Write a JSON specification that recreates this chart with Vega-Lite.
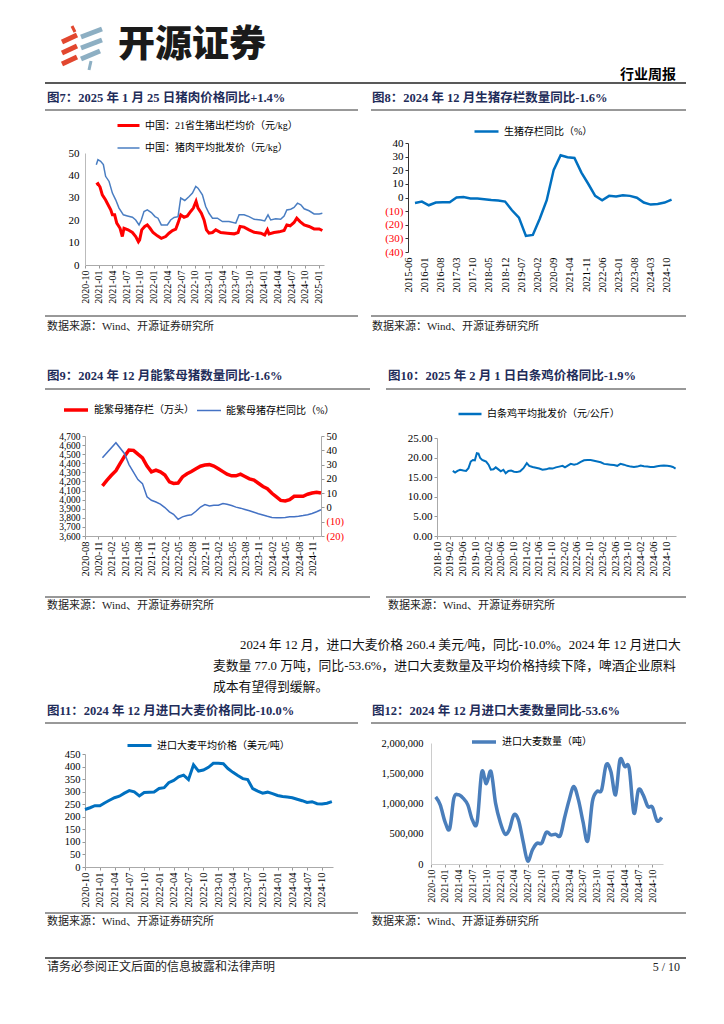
{
"$schema": "https://vega.github.io/schema/vega-lite/v6.json",
"background": "white",
"padding": 0,
"spacing": 0,
"bounds": "flush",
"align": "each",
"columns": 4,
"resolve": {"scale": {"color": "independent", "strokeWidth": "independent"}},
"config": {
  "view": {"stroke": null},
  "font": "Liberation Serif, Noto Sans CJK SC",
  "axis": {"labelFont": "Liberation Serif", "labelColor": "#000", "domainColor": "#999", "tickColor": "#999", "tickSize": 3, "grid": false, "labelFlush": false, "labelOverlap": false},
  "legend": {"labelFont": "Liberation Serif, Noto Sans CJK SC", "labelFontSize": 10, "labelColor": "#000", "orient": "none", "symbolType": "stroke", "padding": 0, "rowPadding": 0, "columnPadding": 5, "labelOffset": 4}
},
"datasets": {
  "f7r": [
    {"date":"2020-12-15","value":35.8},{"date":"2020-12-26","value":36.3},{"date":"2021-01-09","value":34.8},{"date":"2021-01-24","value":31.3},{"date":"2021-02-15","value":29.0},{"date":"2021-02-26","value":27.6},{"date":"2021-03-21","value":24.6},{"date":"2021-04-01","value":22.4},{"date":"2021-04-16","value":22.4},{"date":"2021-04-30","value":18.7},{"date":"2021-05-22","value":16.4},{"date":"2021-06-06","value":12.7},{"date":"2021-06-17","value":16.4},{"date":"2021-07-14","value":15.7},{"date":"2021-08-12","value":14.5},{"date":"2021-09-03","value":12.7},{"date":"2021-09-21","value":10.4},{"date":"2021-09-29","value":11.2},{"date":"2021-10-13","value":15.7},{"date":"2021-11-02","value":17.2},{"date":"2021-11-19","value":17.9},{"date":"2021-12-07","value":16.4},{"date":"2021-12-27","value":14.5},{"date":"2022-01-25","value":13.0},{"date":"2022-02-20","value":11.9},{"date":"2022-03-21","value":12.7},{"date":"2022-04-12","value":14.2},{"date":"2022-05-05","value":15.4},{"date":"2022-05-27","value":16.0},{"date":"2022-06-11","value":18.7},{"date":"2022-06-29","value":22.4},{"date":"2022-07-21","value":21.3},{"date":"2022-08-12","value":21.9},{"date":"2022-09-03","value":23.9},{"date":"2022-09-21","value":25.4},{"date":"2022-10-09","value":28.4},{"date":"2022-10-22","value":25.4},{"date":"2022-11-13","value":23.1},{"date":"2022-12-01","value":20.1},{"date":"2022-12-17","value":15.7},{"date":"2023-01-03","value":14.2},{"date":"2023-01-26","value":14.5},{"date":"2023-02-17","value":15.7},{"date":"2023-03-22","value":14.5},{"date":"2023-05-05","value":14.2},{"date":"2023-06-19","value":13.9},{"date":"2023-07-15","value":14.5},{"date":"2023-07-28","value":17.2},{"date":"2023-08-24","value":16.9},{"date":"2023-09-26","value":15.7},{"date":"2023-10-30","value":14.6},{"date":"2023-12-13","value":14.2},{"date":"2024-01-08","value":13.4},{"date":"2024-01-26","value":15.7},{"date":"2024-02-06","value":13.9},{"date":"2024-03-10","value":14.5},{"date":"2024-04-13","value":14.8},{"date":"2024-05-16","value":15.4},{"date":"2024-06-03","value":17.9},{"date":"2024-06-25","value":17.5},{"date":"2024-07-21","value":19.0},{"date":"2024-08-08","value":20.9},{"date":"2024-08-30","value":19.4},{"date":"2024-09-26","value":17.9},{"date":"2024-10-29","value":17.2},{"date":"2024-12-01","value":16.1},{"date":"2025-01-04","value":16.1},{"date":"2025-01-25","value":15.4}
  ],
  "f7b": [
    {"date":"2020-12-15","value":44.8},{"date":"2020-12-26","value":47.0},{"date":"2021-01-13","value":46.3},{"date":"2021-01-31","value":44.8},{"date":"2021-02-15","value":39.6},{"date":"2021-03-10","value":37.3},{"date":"2021-04-01","value":32.1},{"date":"2021-04-23","value":29.1},{"date":"2021-05-15","value":25.4},{"date":"2021-06-13","value":22.4},{"date":"2021-07-10","value":21.9},{"date":"2021-08-12","value":21.3},{"date":"2021-09-03","value":20.1},{"date":"2021-09-25","value":17.9},{"date":"2021-10-10","value":20.1},{"date":"2021-10-28","value":23.9},{"date":"2021-11-19","value":24.6},{"date":"2021-12-16","value":23.4},{"date":"2022-01-09","value":21.6},{"date":"2022-01-29","value":20.9},{"date":"2022-02-20","value":17.9},{"date":"2022-04-01","value":17.9},{"date":"2022-04-23","value":20.1},{"date":"2022-05-16","value":21.2},{"date":"2022-06-11","value":21.6},{"date":"2022-06-29","value":29.9},{"date":"2022-07-26","value":28.8},{"date":"2022-08-24","value":30.6},{"date":"2022-09-15","value":32.1},{"date":"2022-10-07","value":35.1},{"date":"2022-10-22","value":34.3},{"date":"2022-11-20","value":31.3},{"date":"2022-12-12","value":26.1},{"date":"2023-01-03","value":23.1},{"date":"2023-01-26","value":20.9},{"date":"2023-02-28","value":20.9},{"date":"2023-04-02","value":19.4},{"date":"2023-05-16","value":19.4},{"date":"2023-06-30","value":18.7},{"date":"2023-07-22","value":22.4},{"date":"2023-08-24","value":22.4},{"date":"2023-09-26","value":21.6},{"date":"2023-10-30","value":20.4},{"date":"2023-12-13","value":20.1},{"date":"2024-01-08","value":19.7},{"date":"2024-01-30","value":22.4},{"date":"2024-02-17","value":20.1},{"date":"2024-03-21","value":20.6},{"date":"2024-04-23","value":20.4},{"date":"2024-05-16","value":21.9},{"date":"2024-06-03","value":24.6},{"date":"2024-06-29","value":24.9},{"date":"2024-07-21","value":25.7},{"date":"2024-08-13","value":27.6},{"date":"2024-09-04","value":26.9},{"date":"2024-09-26","value":25.1},{"date":"2024-10-29","value":24.2},{"date":"2024-12-01","value":22.8},{"date":"2025-01-04","value":22.8},{"date":"2025-01-25","value":23.1}
  ],
  "f8": [
    {"date":"2015-09-01","value":-4.0},{"date":"2015-12-01","value":-3.0},{"date":"2016-03-01","value":-5.7},{"date":"2016-06-01","value":-3.7},{"date":"2016-09-01","value":-3.5},{"date":"2016-12-01","value":-3.5},{"date":"2017-03-01","value":0.0},{"date":"2017-06-01","value":0.3},{"date":"2017-09-01","value":-0.7},{"date":"2017-12-01","value":-0.8},{"date":"2018-03-01","value":-1.2},{"date":"2018-06-01","value":-1.8},{"date":"2018-09-01","value":-2.2},{"date":"2018-12-01","value":-3.0},{"date":"2019-03-01","value":-9.4},{"date":"2019-06-01","value":-14.8},{"date":"2019-09-01","value":-28.2},{"date":"2019-12-01","value":-27.5},{"date":"2020-03-01","value":-15.6},{"date":"2020-06-01","value":-2.0},{"date":"2020-09-01","value":20.3},{"date":"2020-12-01","value":31.0},{"date":"2021-03-01","value":29.5},{"date":"2021-06-01","value":29.0},{"date":"2021-09-01","value":18.3},{"date":"2021-12-01","value":9.9},{"date":"2022-03-01","value":1.2},{"date":"2022-06-01","value":-2.0},{"date":"2022-09-01","value":1.2},{"date":"2022-12-01","value":0.7},{"date":"2023-03-01","value":1.7},{"date":"2023-06-01","value":1.2},{"date":"2023-09-01","value":-0.2},{"date":"2023-12-01","value":-3.7},{"date":"2024-03-01","value":-5.2},{"date":"2024-06-01","value":-4.7},{"date":"2024-09-01","value":-3.7},{"date":"2024-12-01","value":-1.6}
  ],
  "f9r": [
    {"date":"2020-11-28","value":4151},{"date":"2020-12-28","value":4212},{"date":"2021-01-28","value":4268},{"date":"2021-02-28","value":4318},{"date":"2021-03-28","value":4396},{"date":"2021-04-28","value":4478},{"date":"2021-05-28","value":4545},{"date":"2021-06-28","value":4542},{"date":"2021-07-28","value":4500},{"date":"2021-08-28","value":4460},{"date":"2021-09-28","value":4370},{"date":"2021-10-28","value":4305},{"date":"2021-11-28","value":4325},{"date":"2021-12-28","value":4305},{"date":"2022-01-28","value":4270},{"date":"2022-02-28","value":4195},{"date":"2022-03-28","value":4178},{"date":"2022-04-28","value":4183},{"date":"2022-05-28","value":4250},{"date":"2022-06-28","value":4285},{"date":"2022-07-28","value":4310},{"date":"2022-08-28","value":4340},{"date":"2022-09-28","value":4368},{"date":"2022-10-28","value":4380},{"date":"2022-11-28","value":4385},{"date":"2022-12-28","value":4370},{"date":"2023-01-28","value":4340},{"date":"2023-02-28","value":4308},{"date":"2023-03-28","value":4280},{"date":"2023-04-28","value":4262},{"date":"2023-05-28","value":4262},{"date":"2023-06-28","value":4280},{"date":"2023-07-28","value":4255},{"date":"2023-08-28","value":4228},{"date":"2023-09-28","value":4215},{"date":"2023-10-28","value":4180},{"date":"2023-11-28","value":4145},{"date":"2023-12-28","value":4120},{"date":"2024-01-28","value":4070},{"date":"2024-02-28","value":4030},{"date":"2024-03-28","value":3992},{"date":"2024-04-28","value":3986},{"date":"2024-05-28","value":4000},{"date":"2024-06-28","value":4037},{"date":"2024-07-28","value":4037},{"date":"2024-08-28","value":4037},{"date":"2024-09-28","value":4059},{"date":"2024-10-28","value":4073},{"date":"2024-11-28","value":4081},{"date":"2024-12-28","value":4073}
  ],
  "f9b": [
    {"date":"2020-11-28","value":34.8},{"date":"2021-02-28","value":45.3},{"date":"2021-04-28","value":37.6},{"date":"2021-05-28","value":30.0},{"date":"2021-07-28","value":19.5},{"date":"2021-08-28","value":16.7},{"date":"2021-09-28","value":7.5},{"date":"2021-10-28","value":5.0},{"date":"2021-11-28","value":3.8},{"date":"2021-12-28","value":2.3},{"date":"2022-01-28","value":-0.1},{"date":"2022-02-28","value":-3.1},{"date":"2022-03-28","value":-4.8},{"date":"2022-04-28","value":-8.3},{"date":"2022-05-28","value":-6.6},{"date":"2022-06-28","value":-5.7},{"date":"2022-07-28","value":-5.2},{"date":"2022-08-28","value":-2.7},{"date":"2022-09-28","value":0.3},{"date":"2022-10-28","value":2.0},{"date":"2022-11-28","value":1.0},{"date":"2022-12-28","value":1.5},{"date":"2023-01-28","value":1.5},{"date":"2023-02-28","value":2.7},{"date":"2023-03-28","value":2.2},{"date":"2023-04-28","value":1.3},{"date":"2023-05-28","value":0.2},{"date":"2023-06-28","value":-0.5},{"date":"2023-07-28","value":-1.4},{"date":"2023-08-28","value":-2.3},{"date":"2023-09-28","value":-3.4},{"date":"2023-10-28","value":-4.4},{"date":"2023-11-28","value":-5.3},{"date":"2023-12-28","value":-6.2},{"date":"2024-01-28","value":-7.0},{"date":"2024-02-28","value":-7.3},{"date":"2024-03-28","value":-7.3},{"date":"2024-04-28","value":-7.0},{"date":"2024-05-28","value":-6.6},{"date":"2024-06-28","value":-6.5},{"date":"2024-07-28","value":-6.2},{"date":"2024-08-28","value":-5.7},{"date":"2024-09-28","value":-5.1},{"date":"2024-10-28","value":-4.2},{"date":"2024-11-28","value":-3.0},{"date":"2024-12-28","value":-1.6}
  ],
  "f10": [
    {"date":"2019-03-01","value":16.6},{"date":"2019-03-23","value":16.2},{"date":"2019-04-15","value":16.6},{"date":"2019-05-10","value":16.9},{"date":"2019-06-11","value":16.7},{"date":"2019-07-06","value":16.6},{"date":"2019-07-29","value":17.3},{"date":"2019-08-20","value":19.0},{"date":"2019-09-09","value":19.4},{"date":"2019-09-28","value":19.3},{"date":"2019-10-17","value":21.1},{"date":"2019-11-02","value":21.0},{"date":"2019-11-18","value":19.9},{"date":"2019-12-07","value":19.4},{"date":"2019-12-26","value":19.2},{"date":"2020-01-14","value":19.0},{"date":"2020-02-06","value":18.2},{"date":"2020-02-28","value":16.9},{"date":"2020-03-24","value":17.0},{"date":"2020-04-15","value":17.5},{"date":"2020-05-10","value":17.0},{"date":"2020-06-02","value":16.5},{"date":"2020-06-27","value":16.9},{"date":"2020-07-19","value":16.0},{"date":"2020-08-14","value":16.6},{"date":"2020-09-09","value":16.7},{"date":"2020-10-07","value":16.4},{"date":"2020-11-02","value":16.3},{"date":"2020-12-04","value":16.5},{"date":"2021-01-05","value":17.3},{"date":"2021-02-06","value":18.6},{"date":"2021-03-01","value":17.9},{"date":"2021-04-02","value":17.6},{"date":"2021-05-04","value":17.4},{"date":"2021-06-05","value":17.2},{"date":"2021-07-06","value":16.9},{"date":"2021-08-08","value":17.0},{"date":"2021-09-09","value":17.3},{"date":"2021-10-10","value":17.2},{"date":"2021-11-11","value":17.5},{"date":"2021-12-13","value":17.7},{"date":"2022-01-14","value":17.9},{"date":"2022-02-06","value":17.5},{"date":"2022-03-01","value":17.9},{"date":"2022-04-02","value":18.4},{"date":"2022-05-04","value":18.2},{"date":"2022-06-05","value":18.4},{"date":"2022-07-07","value":18.9},{"date":"2022-08-08","value":19.3},{"date":"2022-09-09","value":19.4},{"date":"2022-10-10","value":19.4},{"date":"2022-11-11","value":19.2},{"date":"2022-12-13","value":19.0},{"date":"2023-01-14","value":18.8},{"date":"2023-02-15","value":18.4},{"date":"2023-03-17","value":18.3},{"date":"2023-04-18","value":18.2},{"date":"2023-05-20","value":18.1},{"date":"2023-06-21","value":17.9},{"date":"2023-07-22","value":18.4},{"date":"2023-08-24","value":18.2},{"date":"2023-09-25","value":17.9},{"date":"2023-10-27","value":17.7},{"date":"2023-11-28","value":17.6},{"date":"2023-12-29","value":17.7},{"date":"2024-01-31","value":18.0},{"date":"2024-03-02","value":17.8},{"date":"2024-04-03","value":17.7},{"date":"2024-05-04","value":17.6},{"date":"2024-06-05","value":17.6},{"date":"2024-07-07","value":17.8},{"date":"2024-08-08","value":17.9},{"date":"2024-09-09","value":18.0},{"date":"2024-10-11","value":17.9},{"date":"2024-11-12","value":17.8},{"date":"2024-12-04","value":17.6},{"date":"2024-12-30","value":17.2}
  ],
  "f11": [
    {"date":"2020-10-01","value":229},{"date":"2020-11-01","value":236},{"date":"2020-12-01","value":244},{"date":"2021-01-01","value":244},{"date":"2021-02-01","value":256},{"date":"2021-03-01","value":266},{"date":"2021-04-01","value":276},{"date":"2021-05-01","value":282},{"date":"2021-06-01","value":294},{"date":"2021-07-01","value":304},{"date":"2021-08-01","value":299},{"date":"2021-09-01","value":283},{"date":"2021-10-01","value":297},{"date":"2021-11-01","value":298},{"date":"2021-12-01","value":299},{"date":"2022-01-01","value":313},{"date":"2022-02-01","value":316},{"date":"2022-03-01","value":336},{"date":"2022-04-01","value":345},{"date":"2022-05-01","value":359},{"date":"2022-06-01","value":366},{"date":"2022-07-01","value":348},{"date":"2022-08-01","value":407},{"date":"2022-09-01","value":382},{"date":"2022-10-01","value":386},{"date":"2022-11-01","value":397},{"date":"2022-12-01","value":413},{"date":"2023-01-01","value":413},{"date":"2023-02-01","value":411},{"date":"2023-03-01","value":392},{"date":"2023-04-01","value":377},{"date":"2023-05-01","value":364},{"date":"2023-06-01","value":352},{"date":"2023-07-01","value":348},{"date":"2023-08-01","value":312},{"date":"2023-09-01","value":302},{"date":"2023-10-01","value":294},{"date":"2023-11-01","value":298},{"date":"2023-12-01","value":292},{"date":"2024-01-01","value":285},{"date":"2024-02-01","value":281},{"date":"2024-03-01","value":279},{"date":"2024-04-01","value":276},{"date":"2024-05-01","value":270},{"date":"2024-06-01","value":264},{"date":"2024-07-01","value":257},{"date":"2024-08-01","value":260},{"date":"2024-09-01","value":252},{"date":"2024-10-01","value":251},{"date":"2024-11-01","value":254},{"date":"2024-12-01","value":260.4}
  ],
  "f12": [
    {"date":"2020-11-01","value":1110000},{"date":"2020-12-01","value":978000},{"date":"2021-01-01","value":702000},{"date":"2021-02-01","value":580000},{"date":"2021-03-01","value":1088000},{"date":"2021-04-01","value":1144000},{"date":"2021-05-01","value":1088000},{"date":"2021-06-01","value":978000},{"date":"2021-07-01","value":729000},{"date":"2021-08-01","value":690000},{"date":"2021-09-01","value":1519000},{"date":"2021-10-01","value":1326000},{"date":"2021-11-01","value":1530000},{"date":"2021-12-01","value":1006000},{"date":"2022-01-01","value":690000},{"date":"2022-02-01","value":497000},{"date":"2022-03-01","value":563000},{"date":"2022-04-01","value":812000},{"date":"2022-05-01","value":729000},{"date":"2022-06-01","value":370000},{"date":"2022-07-01","value":50000},{"date":"2022-08-01","value":232000},{"date":"2022-09-01","value":343000},{"date":"2022-10-01","value":343000},{"date":"2022-11-01","value":525000},{"date":"2022-12-01","value":481000},{"date":"2023-01-01","value":492000},{"date":"2023-02-01","value":470000},{"date":"2023-03-01","value":760000},{"date":"2023-04-01","value":1060000},{"date":"2023-05-01","value":1280000},{"date":"2023-06-01","value":1060000},{"date":"2023-07-01","value":700000},{"date":"2023-08-01","value":381000},{"date":"2023-09-01","value":1032000},{"date":"2023-10-01","value":1198000},{"date":"2023-11-01","value":1226000},{"date":"2023-12-01","value":1640000},{"date":"2024-01-01","value":1530000},{"date":"2024-02-01","value":1143000},{"date":"2024-03-01","value":1723000},{"date":"2024-04-01","value":1612000},{"date":"2024-05-01","value":1585000},{"date":"2024-06-01","value":840000},{"date":"2024-07-01","value":1226000},{"date":"2024-08-01","value":1143000},{"date":"2024-09-01","value":950000},{"date":"2024-10-01","value":940000},{"date":"2024-11-01","value":712000},{"date":"2024-12-01","value":770000}
  ]
},
"concat": [
  {
    "width": 85, "height": 143,
    "data": {"values": [{}]},
    "layer": [
      {"mark": {"type": "rule", "strokeWidth": 5, "color": "#E2472F"}, "encoding": {"x": {"value": 62}, "y": {"value": 42}, "x2": {"value": 77}, "y2": {"value": 35}}},
      {"mark": {"type": "rule", "strokeWidth": 5, "color": "#E2472F"}, "encoding": {"x": {"value": 62}, "y": {"value": 53}, "x2": {"value": 77}, "y2": {"value": 46}}},
      {"mark": {"type": "rule", "strokeWidth": 5, "color": "#E2472F"}, "encoding": {"x": {"value": 62}, "y": {"value": 64}, "x2": {"value": 77}, "y2": {"value": 57}}},
      {"mark": {"type": "rule", "strokeWidth": 3, "color": "#E2472F"}, "encoding": {"x": {"value": 72}, "y": {"value": 26}, "x2": {"value": 75}, "y2": {"value": 32}}},
      {"mark": {"type": "rule", "strokeWidth": 5, "color": "#8DAFC3"}, "encoding": {"x": {"value": 81}, "y": {"value": 37}, "x2": {"value": 102}, "y2": {"value": 29}}},
      {"mark": {"type": "rule", "strokeWidth": 5, "color": "#8DAFC3"}, "encoding": {"x": {"value": 81}, "y": {"value": 48}, "x2": {"value": 102}, "y2": {"value": 40}}},
      {"mark": {"type": "rule", "strokeWidth": 5, "color": "#8DAFC3"}, "encoding": {"x": {"value": 81}, "y": {"value": 59}, "x2": {"value": 100}, "y2": {"value": 51}}},
      {"mark": {"type": "rule", "strokeWidth": 3, "color": "#8DAFC3"}, "encoding": {"x": {"value": 91}, "y": {"value": 61}, "x2": {"value": 89}, "y2": {"value": 70}}},
      {"mark": {"type": "text", "text": "开源证券", "x": 118, "y": 46, "align": "left", "baseline": "middle", "fontSize": 37, "fontWeight": 900, "font": "Noto Sans CJK SC", "color": "#1a1a1a"}},
      {"mark": {"type": "text", "text": "行业周报", "x": 676, "y": 75, "align": "right", "baseline": "middle", "fontSize": 14, "fontWeight": "bold", "font": "Noto Sans CJK SC", "color": "#000"}},
      {"mark": {"type": "rule", "strokeWidth": 1.5, "color": "#222"}, "encoding": {"x": {"value": 45}, "x2": {"value": 686}, "y": {"value": 83}}},
      {"mark": {"type": "text", "text": "图7：2025 年 1 月 25 日猪肉价格同比+1.4%", "x": 47, "y": 98, "align": "left", "baseline": "middle", "fontSize": 12.5, "fontWeight": "bold", "color": "#1F2D5A"}},
      {"mark": {"type": "text", "text": "图8：2024 年 12 月生猪存栏数量同比-1.6%", "x": 372, "y": 98, "align": "left", "baseline": "middle", "fontSize": 12.5, "fontWeight": "bold", "color": "#1F2D5A"}},
      {"mark": {"type": "rule", "strokeWidth": 1, "color": "#333"}, "encoding": {"x": {"value": 45}, "x2": {"value": 358}, "y": {"value": 110}}},
      {"mark": {"type": "rule", "strokeWidth": 1, "color": "#333"}, "encoding": {"x": {"value": 371}, "x2": {"value": 686}, "y": {"value": 110}}}
    ]
  },
  {"width": 1, "height": 1, "data": {"values": []}, "mark": "point"},
  {"width": 75, "height": 1, "data": {"values": []}, "mark": "point"},
  {"width": 1, "height": 1, "data": {"values": []}, "mark": "point"},

  {"width": 85, "height": 1, "data": {"values": []}, "mark": "point"},
  {
    "width": 239, "height": 122,
    "layer": [
      {
        "data": {"name": "f7r"},
        "mark": {"type": "line"},
        "encoding": {
          "x": {"field": "date", "type": "temporal", "title": null,
                "scale": {"type": "utc", "domain": [{"year": 2020, "month": 10, "date": 1, "utc": true}, {"year": 2025, "month": 2, "date": 5, "utc": true}]},
                "axis": {"format": "%Y-%m", "tickCount": {"interval": "month", "step": 3}, "labelAngle": -90, "labelFontSize": 10, "labelPadding": 2, "domainColor": "#aaa"}},
          "y": {"field": "value", "type": "quantitative", "title": null, "scale": {"domain": [0, 50], "range": [122, 10]},
                "axis": {"values": [0, 10, 20, 30, 40, 50], "labelFontSize": 11, "domainColor": "#bbb", "tickSize": 0, "labelPadding": 6}},
          "color": {"datum": "中国：21省生猪出栏均价（元/kg）", "type": "nominal",
                    "scale": {"domain": ["中国：21省生猪出栏均价（元/kg）", "中国：猪肉平均批发价（元/kg）"], "range": ["#FF0000", "#4A7EC2"]},
                    "legend": {"title": null, "legendX": 31, "legendY": -30, "direction": "vertical", "symbolSize": 484, "rowPadding": 4}},
          "strokeWidth": {"datum": "中国：21省生猪出栏均价（元/kg）", "type": "nominal",
                    "scale": {"type": "point", "padding": 0, "domain": ["中国：21省生猪出栏均价（元/kg）", "中国：猪肉平均批发价（元/kg）"], "range": [3, 1.5]},
                    "legend": {"title": null, "legendX": 31, "legendY": -30, "direction": "vertical", "symbolSize": 484, "rowPadding": 4}}
        }
      },
      {
        "data": {"name": "f7b"},
        "mark": {"type": "line"},
        "encoding": {
          "x": {"field": "date", "type": "temporal", "title": null,
                "scale": {"type": "utc", "domain": [{"year": 2020, "month": 10, "date": 1, "utc": true}, {"year": 2025, "month": 2, "date": 5, "utc": true}]},
                "axis": {"format": "%Y-%m", "tickCount": {"interval": "month", "step": 3}, "labelAngle": -90, "labelFontSize": 10, "labelPadding": 2, "domainColor": "#aaa"}},
          "y": {"field": "value", "type": "quantitative", "title": null, "scale": {"domain": [0, 50], "range": [122, 10]},
                "axis": {"values": [0, 10, 20, 30, 40, 50], "labelFontSize": 11, "domainColor": "#bbb", "tickSize": 0, "labelPadding": 6}},
          "color": {"datum": "中国：猪肉平均批发价（元/kg）", "type": "nominal"},
          "strokeWidth": {"datum": "中国：猪肉平均批发价（元/kg）", "type": "nominal"}
        }
      }
    ]
  },
  {"width": 75, "height": 1, "data": {"values": []}, "mark": "point"},
  {
    "width": 265, "height": 109,
    "layer": [
      {
        "data": {"name": "f8"},
        "mark": {"type": "line", "strokeWidth": 2.5},
        "encoding": {
          "x": {"field": "date", "type": "temporal", "title": null,
                "scale": {"type": "utc", "domain": [{"year": 2015, "month": 6, "date": 1, "utc": true}, {"year": 2024, "month": 12, "date": 20, "utc": true}]},
                "axis": {"format": "%Y-%m", "labelAngle": -90, "labelFontSize": 10.5, "labelPadding": 5, "domain": false, "ticks": false,
                         "values": [{"year": 2015, "month": 6, "date": 1, "utc": true}, {"year": 2016, "month": 1, "date": 1, "utc": true}, {"year": 2016, "month": 8, "date": 1, "utc": true}, {"year": 2017, "month": 3, "date": 1, "utc": true}, {"year": 2017, "month": 10, "date": 1, "utc": true}, {"year": 2018, "month": 5, "date": 1, "utc": true}, {"year": 2018, "month": 12, "date": 1, "utc": true}, {"year": 2019, "month": 7, "date": 1, "utc": true}, {"year": 2020, "month": 2, "date": 1, "utc": true}, {"year": 2020, "month": 9, "date": 1, "utc": true}, {"year": 2021, "month": 4, "date": 1, "utc": true}, {"year": 2021, "month": 11, "date": 1, "utc": true}, {"year": 2022, "month": 6, "date": 1, "utc": true}, {"year": 2023, "month": 1, "date": 1, "utc": true}, {"year": 2023, "month": 8, "date": 1, "utc": true}, {"year": 2024, "month": 3, "date": 1, "utc": true}, {"year": 2024, "month": 10, "date": 1, "utc": true}]}},
          "y": {"field": "value", "type": "quantitative", "title": null, "scale": {"domain": [-40, 40]},
                "axis": {"values": [-40, -30, -20, -10, 0, 10, 20, 30, 40], "labelFontSize": 11, "domainColor": "#333", "tickColor": "#333",
                         "labelExpr": "datum.value < 0 ? '(' + (-datum.value) + ')' : '' + datum.value",
                         "labelColor": {"condition": {"test": "datum.value < 0", "value": "#FF0000"}, "value": "#000"}}},
          "color": {"datum": "生猪存栏同比（%）", "type": "nominal", "scale": {"domain": ["生猪存栏同比（%）"], "range": ["#0070C0"]},
                    "legend": {"title": null, "legendX": 65, "legendY": -25, "symbolSize": 576, "symbolStrokeWidth": 2.5}}
        }
      },
      {"mark": {"type": "rule", "color": "#333", "strokeWidth": 1},
       "encoding": {"y": {"datum": 0, "type": "quantitative", "title": null, "scale": {"domain": [-40, 40]},
                "axis": {"values": [-40, -30, -20, -10, 0, 10, 20, 30, 40], "labelFontSize": 11, "domainColor": "#333", "tickColor": "#333",
                         "labelExpr": "datum.value < 0 ? '(' + (-datum.value) + ')' : '' + datum.value",
                         "labelColor": {"condition": {"test": "datum.value < 0", "value": "#FF0000"}, "value": "#000"}}}}}
    ]
  },

  {
    "width": 85, "height": 171,
    "data": {"values": [{}]},
    "layer": [
      {"mark": {"type": "rule", "strokeWidth": 1, "color": "#333"}, "encoding": {"x": {"value": 45}, "x2": {"value": 358}, "y": {"value": 51}}},
      {"mark": {"type": "rule", "strokeWidth": 1, "color": "#333"}, "encoding": {"x": {"value": 371}, "x2": {"value": 686}, "y": {"value": 51}}},
      {"mark": {"type": "text", "text": "数据来源：Wind、开源证券研究所", "x": 47, "y": 62, "align": "left", "baseline": "middle", "fontSize": 11, "color": "#222"}},
      {"mark": {"type": "text", "text": "数据来源：Wind、开源证券研究所", "x": 372, "y": 62, "align": "left", "baseline": "middle", "fontSize": 11, "color": "#222"}},
      {"mark": {"type": "text", "text": "图9：2024 年 12 月能繁母猪数量同比-1.6%", "x": 47, "y": 111, "align": "left", "baseline": "middle", "fontSize": 12.5, "fontWeight": "bold", "color": "#1F2D5A"}},
      {"mark": {"type": "text", "text": "图10：2025 年 2 月 1 日白条鸡价格同比-1.9%", "x": 388, "y": 111, "align": "left", "baseline": "middle", "fontSize": 12.5, "fontWeight": "bold", "color": "#1F2D5A"}},
      {"mark": {"type": "rule", "strokeWidth": 1, "color": "#333"}, "encoding": {"x": {"value": 45}, "x2": {"value": 370}, "y": {"value": 124}}},
      {"mark": {"type": "rule", "strokeWidth": 1, "color": "#333"}, "encoding": {"x": {"value": 386}, "x2": {"value": 686}, "y": {"value": 124}}}
    ]
  },
  {"width": 1, "height": 1, "data": {"values": []}, "mark": "point"},
  {"width": 1, "height": 1, "data": {"values": []}, "mark": "point"},
  {"width": 1, "height": 1, "data": {"values": []}, "mark": "point"},

  {"width": 85, "height": 1, "data": {"values": []}, "mark": "point"},
  {
    "width": 236, "height": 100,
    "resolve": {"scale": {"y": "independent"}},
    "layer": [
      {
        "data": {"name": "f9r"},
        "mark": {"type": "line"},
        "encoding": {
          "x": {"field": "date", "type": "temporal", "title": null,
                "scale": {"type": "utc", "domain": [{"year": 2020, "month": 8, "date": 1, "utc": true}, {"year": 2024, "month": 12, "date": 28, "utc": true}]},
                "axis": {"format": "%Y-%m", "labelAngle": -90, "labelFontSize": 10.5, "labelPadding": 2, "domainColor": "#aaa",
                         "values": [{"year": 2020, "month": 8, "date": 1, "utc": true}, {"year": 2020, "month": 11, "date": 1, "utc": true}, {"year": 2021, "month": 2, "date": 1, "utc": true}, {"year": 2021, "month": 5, "date": 1, "utc": true}, {"year": 2021, "month": 8, "date": 1, "utc": true}, {"year": 2021, "month": 11, "date": 1, "utc": true}, {"year": 2022, "month": 2, "date": 1, "utc": true}, {"year": 2022, "month": 5, "date": 1, "utc": true}, {"year": 2022, "month": 8, "date": 1, "utc": true}, {"year": 2022, "month": 11, "date": 1, "utc": true}, {"year": 2023, "month": 2, "date": 1, "utc": true}, {"year": 2023, "month": 5, "date": 1, "utc": true}, {"year": 2023, "month": 8, "date": 1, "utc": true}, {"year": 2023, "month": 11, "date": 1, "utc": true}, {"year": 2024, "month": 2, "date": 1, "utc": true}, {"year": 2024, "month": 5, "date": 1, "utc": true}, {"year": 2024, "month": 8, "date": 1, "utc": true}, {"year": 2024, "month": 11, "date": 1, "utc": true}]}},
          "y": {"field": "value", "type": "quantitative", "title": null, "scale": {"domain": [3600, 4700]},
                "axis": {"orient": "left", "format": ",.0f", "values": [3600, 3700, 3800, 3900, 4000, 4100, 4200, 4300, 4400, 4500, 4600, 4700], "labelFontSize": 9.5, "domainColor": "#aaa"}},
          "color": {"datum": "能繁母猪存栏（万头）", "type": "nominal",
                    "scale": {"domain": ["能繁母猪存栏（万头）", "能繁母猪存栏同比（%）"], "range": ["#FF0000", "#4472C4"]},
                    "legend": {"title": null, "legendX": -23, "legendY": -40, "direction": "horizontal", "symbolSize": 576, "columnPadding": 0}},
          "strokeWidth": {"datum": "能繁母猪存栏（万头）", "type": "nominal",
                    "scale": {"type": "point", "padding": 0, "domain": ["能繁母猪存栏（万头）", "能繁母猪存栏同比（%）"], "range": [3.5, 1.5]},
                    "legend": {"title": null, "legendX": -23, "legendY": -40, "direction": "horizontal", "symbolSize": 576, "columnPadding": 0}}
        }
      },
      {
        "data": {"name": "f9b"},
        "mark": {"type": "line"},
        "encoding": {
          "x": {"field": "date", "type": "temporal", "title": null,
                "scale": {"type": "utc", "domain": [{"year": 2020, "month": 8, "date": 1, "utc": true}, {"year": 2024, "month": 12, "date": 28, "utc": true}]},
                "axis": {"format": "%Y-%m", "labelAngle": -90, "labelFontSize": 10.5, "labelPadding": 2, "domainColor": "#aaa",
                         "values": [{"year": 2020, "month": 8, "date": 1, "utc": true}, {"year": 2020, "month": 11, "date": 1, "utc": true}, {"year": 2021, "month": 2, "date": 1, "utc": true}, {"year": 2021, "month": 5, "date": 1, "utc": true}, {"year": 2021, "month": 8, "date": 1, "utc": true}, {"year": 2021, "month": 11, "date": 1, "utc": true}, {"year": 2022, "month": 2, "date": 1, "utc": true}, {"year": 2022, "month": 5, "date": 1, "utc": true}, {"year": 2022, "month": 8, "date": 1, "utc": true}, {"year": 2022, "month": 11, "date": 1, "utc": true}, {"year": 2023, "month": 2, "date": 1, "utc": true}, {"year": 2023, "month": 5, "date": 1, "utc": true}, {"year": 2023, "month": 8, "date": 1, "utc": true}, {"year": 2023, "month": 11, "date": 1, "utc": true}, {"year": 2024, "month": 2, "date": 1, "utc": true}, {"year": 2024, "month": 5, "date": 1, "utc": true}, {"year": 2024, "month": 8, "date": 1, "utc": true}, {"year": 2024, "month": 11, "date": 1, "utc": true}]}},
          "y": {"field": "value", "type": "quantitative", "title": null, "scale": {"domain": [-20, 50]},
                "axis": {"orient": "right", "values": [-20, -10, 0, 10, 20, 30, 40, 50], "labelFontSize": 10.5, "domainColor": "#aaa",
                         "labelExpr": "datum.value < 0 ? '(' + (-datum.value) + ')' : '' + datum.value",
                         "labelColor": {"condition": {"test": "datum.value < 0", "value": "#FF0000"}, "value": "#000"}}},
          "color": {"datum": "能繁母猪存栏同比（%）", "type": "nominal"},
          "strokeWidth": {"datum": "能繁母猪存栏同比（%）", "type": "nominal"}
        }
      }
    ]
  },
  {"width": 75, "height": 1, "data": {"values": []}, "mark": "point"},
  {
    "width": 268, "height": 100,
    "data": {"name": "f10"},
    "mark": {"type": "line", "strokeWidth": 2},
    "encoding": {
      "x": {"field": "date", "type": "temporal", "title": null,
            "scale": {"type": "utc", "range": [29, 268], "domain": [{"year": 2018, "month": 10, "date": 1, "utc": true}, {"year": 2025, "month": 1, "date": 3, "utc": true}]},
            "axis": {"format": "%Y-%m", "labelAngle": -90, "labelFontSize": 10.5, "labelPadding": 2, "domainColor": "#aaa",
                     "values": [{"year": 2018, "month": 10, "date": 1, "utc": true}, {"year": 2019, "month": 2, "date": 1, "utc": true}, {"year": 2019, "month": 6, "date": 1, "utc": true}, {"year": 2019, "month": 10, "date": 1, "utc": true}, {"year": 2020, "month": 2, "date": 1, "utc": true}, {"year": 2020, "month": 6, "date": 1, "utc": true}, {"year": 2020, "month": 10, "date": 1, "utc": true}, {"year": 2021, "month": 2, "date": 1, "utc": true}, {"year": 2021, "month": 6, "date": 1, "utc": true}, {"year": 2021, "month": 10, "date": 1, "utc": true}, {"year": 2022, "month": 2, "date": 1, "utc": true}, {"year": 2022, "month": 6, "date": 1, "utc": true}, {"year": 2022, "month": 10, "date": 1, "utc": true}, {"year": 2023, "month": 2, "date": 1, "utc": true}, {"year": 2023, "month": 6, "date": 1, "utc": true}, {"year": 2023, "month": 10, "date": 1, "utc": true}, {"year": 2024, "month": 2, "date": 1, "utc": true}, {"year": 2024, "month": 6, "date": 1, "utc": true}, {"year": 2024, "month": 10, "date": 1, "utc": true}]}},
      "y": {"field": "value", "type": "quantitative", "title": null, "scale": {"domain": [0, 25], "range": [100, 2]},
            "axis": {"values": [0, 5, 10, 15, 20, 25], "format": ".2f", "labelFontSize": 11, "domainColor": "#aaa", "offset": -29}},
      "color": {"datum": "白条鸡平均批发价（元/公斤）", "type": "nominal", "scale": {"domain": ["白条鸡平均批发价（元/公斤）"], "range": ["#0070C0"]},
                "legend": {"title": null, "legendX": 49, "legendY": -35, "symbolSize": 529, "symbolStrokeWidth": 2.5}}
    }
  },

  {
    "width": 85, "height": 207,
    "data": {"values": [{}]},
    "layer": [
      {"mark": {"type": "rule", "strokeWidth": 1, "color": "#333"}, "encoding": {"x": {"value": 45}, "x2": {"value": 370}, "y": {"value": 61}}},
      {"mark": {"type": "rule", "strokeWidth": 1, "color": "#333"}, "encoding": {"x": {"value": 386}, "x2": {"value": 686}, "y": {"value": 61}}},
      {"mark": {"type": "text", "text": "数据来源：Wind、开源证券研究所", "x": 47, "y": 70, "align": "left", "baseline": "middle", "fontSize": 11, "color": "#222"}},
      {"mark": {"type": "text", "text": "数据来源：Wind、开源证券研究所", "x": 388, "y": 70, "align": "left", "baseline": "middle", "fontSize": 11, "color": "#222"}},
      {"mark": {"type": "text", "text": "2024 年 12 月，进口大麦价格 260.4 美元/吨，同比-10.0%。2024 年 12 月进口大", "x": 240, "y": 109, "align": "left", "baseline": "middle", "fontSize": 12.8, "color": "#111"}},
      {"mark": {"type": "text", "text": "麦数量 77.0 万吨，同比-53.6%，进口大麦数量及平均价格持续下降，啤酒企业原料", "x": 213, "y": 130, "align": "left", "baseline": "middle", "fontSize": 12.8, "color": "#111"}},
      {"mark": {"type": "text", "text": "成本有望得到缓解。", "x": 213, "y": 151, "align": "left", "baseline": "middle", "fontSize": 12.8, "color": "#111"}},
      {"mark": {"type": "text", "text": "图11：2024 年 12 月进口大麦价格同比-10.0%", "x": 47, "y": 175, "align": "left", "baseline": "middle", "fontSize": 12.5, "fontWeight": "bold", "color": "#1F2D5A"}},
      {"mark": {"type": "text", "text": "图12：2024 年 12 月进口大麦数量同比-53.6%", "x": 372, "y": 175, "align": "left", "baseline": "middle", "fontSize": 12.5, "fontWeight": "bold", "color": "#1F2D5A"}},
      {"mark": {"type": "rule", "strokeWidth": 1, "color": "#333"}, "encoding": {"x": {"value": 45}, "x2": {"value": 358}, "y": {"value": 187}}},
      {"mark": {"type": "rule", "strokeWidth": 1, "color": "#333"}, "encoding": {"x": {"value": 371}, "x2": {"value": 686}, "y": {"value": 187}}}
    ]
  },
  {"width": 1, "height": 1, "data": {"values": []}, "mark": "point"},
  {"width": 1, "height": 1, "data": {"values": []}, "mark": "point"},
  {"width": 1, "height": 1, "data": {"values": []}, "mark": "point"},

  {"width": 85, "height": 1, "data": {"values": []}, "mark": "point"},
  {
    "width": 248, "height": 124,
    "data": {"name": "f11"},
    "mark": {"type": "line", "strokeWidth": 3},
    "encoding": {
      "x": {"field": "date", "type": "temporal", "title": null,
            "scale": {"type": "utc", "domain": [{"year": 2020, "month": 10, "date": 1, "utc": true}, {"year": 2024, "month": 12, "date": 8, "utc": true}]},
            "axis": {"format": "%Y-%m", "tickCount": {"interval": "month", "step": 3}, "labelAngle": -90, "labelFontSize": 10.5, "labelPadding": 2, "domainColor": "#aaa"}},
      "y": {"field": "value", "type": "quantitative", "title": null, "scale": {"domain": [0, 450], "range": [124, 11]},
            "axis": {"values": [0, 50, 100, 150, 200, 250, 300, 350, 400, 450], "labelFontSize": 10.5, "domainColor": "#aaa"}},
      "color": {"datum": "进口大麦平均价格（美元/吨）", "type": "nominal", "scale": {"domain": ["进口大麦平均价格（美元/吨）"], "range": ["#0070C0"]},
                "legend": {"title": null, "legendX": 41, "legendY": -11, "symbolSize": 576, "symbolStrokeWidth": 3}}
    }
  },
  {"width": 75, "height": 1, "data": {"values": []}, "mark": "point"},
  {
    "width": 255, "height": 121,
    "data": {"name": "f12"},
    "mark": {"type": "line", "strokeWidth": 3.5, "interpolate": "cardinal"},
    "encoding": {
      "x": {"field": "date", "type": "temporal", "title": null,
            "scale": {"type": "utc", "range": [23, 255], "domain": [{"year": 2020, "month": 10, "date": 1, "utc": true}, {"year": 2024, "month": 12, "date": 10, "utc": true}]},
            "axis": {"format": "%Y-%m", "tickCount": {"interval": "month", "step": 3}, "labelAngle": -90, "labelFontSize": 10, "labelPadding": 2, "domainColor": "#ccc"}},
      "y": {"field": "value", "type": "quantitative", "title": null, "scale": {"domain": [0, 2000000]},
            "axis": {"values": [0, 500000, 1000000, 1500000, 2000000], "format": ",.0f", "labelFontSize": 10.5, "domainColor": "#ccc", "tickSize": 0, "labelPadding": 8, "offset": -23}},
      "color": {"datum": "进口大麦数量（吨）", "type": "nominal", "scale": {"domain": ["进口大麦数量（吨）"], "range": ["#4A7EBB"]},
                "legend": {"title": null, "legendX": 62, "legendY": -15, "symbolSize": 576, "symbolStrokeWidth": 3.5}}
    }
  },

  {
    "width": 85, "height": 157,
    "data": {"values": [{}]},
    "layer": [
      {"mark": {"type": "rule", "strokeWidth": 1, "color": "#333"}, "encoding": {"x": {"value": 45}, "x2": {"value": 358}, "y": {"value": 46}}},
      {"mark": {"type": "rule", "strokeWidth": 1, "color": "#333"}, "encoding": {"x": {"value": 371}, "x2": {"value": 686}, "y": {"value": 46}}},
      {"mark": {"type": "text", "text": "数据来源：Wind、开源证券研究所", "x": 47, "y": 55, "align": "left", "baseline": "middle", "fontSize": 11, "color": "#222"}},
      {"mark": {"type": "text", "text": "数据来源：Wind、开源证券研究所", "x": 372, "y": 55, "align": "left", "baseline": "middle", "fontSize": 11, "color": "#222"}},
      {"mark": {"type": "rule", "strokeWidth": 1.5, "color": "#333"}, "encoding": {"x": {"value": 45}, "x2": {"value": 686}, "y": {"value": 91}}},
      {"mark": {"type": "text", "text": "请务必参阅正文后面的信息披露和法律声明", "x": 47, "y": 100, "align": "left", "baseline": "middle", "fontSize": 12, "color": "#222"}},
      {"mark": {"type": "text", "text": "5 / 10", "x": 680, "y": 100, "align": "right", "baseline": "middle", "fontSize": 12, "color": "#222"}}
    ]
  }
]
}
